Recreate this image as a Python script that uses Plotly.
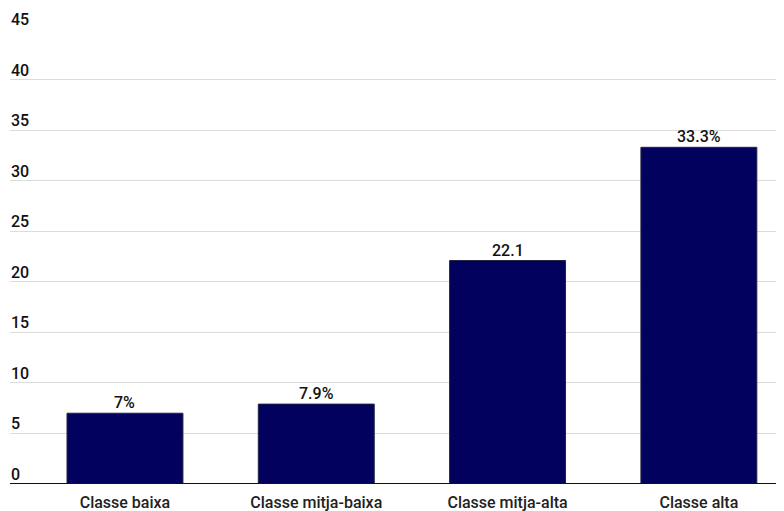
import plotly.graph_objects as go

categories = ["Classe baixa", "Classe mitja-baixa", "Classe mitja-alta", "Classe alta"]
values = [7, 7.9, 22.1, 33.3]
value_labels = ["7%", "7.9%", "22.1", "33.3%"]
y_ticks = [0, 5, 10, 15, 20, 25, 30, 35, 40, 45]

FONT = "Roboto"
fig = go.Figure()
fig.add_trace(go.Bar(
    x=list(range(len(categories))), y=values,
    marker=dict(color="#02025e", line=dict(color="#222244", width=1)),
    width=0.606,
))

annotations = []
for t in y_ticks:
    annotations.append(dict(x=0, xref="paper", y=t, yref="y", text=str(t),
                            showarrow=False, xanchor="left", yanchor="bottom",
                            yshift=-2, xshift=-1,
                            font=dict(family=FONT, size=16, color="#111", weight=500)))
for i, (v, lab) in enumerate(zip(values, value_labels)):
    annotations.append(dict(x=i, xref="x", y=v, yref="y", text=lab,
                            showarrow=False, xanchor="center", yanchor="bottom",
                            yshift=-1,
                            font=dict(family=FONT, size=16, color="#111", weight=500)))

fig.update_layout(
    width=776, height=503,
    margin=dict(l=2, r=0, t=21, b=27),
    paper_bgcolor="white", plot_bgcolor="white",
    showlegend=False,
    annotations=annotations,
    xaxis=dict(range=[-0.601, 3.445], tickmode="array",
               tickvals=list(range(len(categories))), ticktext=categories,
               showgrid=False, zeroline=False, showline=False, ticks="",
               ticklabelstandoff=7,
               tickfont=dict(family=FONT, size=16, color="#222", weight=500)),
    yaxis=dict(range=[0, 45], tickvals=y_ticks, showticklabels=False,
               showgrid=True, gridcolor="#dcdcdc", gridwidth=1,
               zeroline=False, showline=False),
    shapes=[dict(type="line", xref="paper", x0=0, x1=1, yref="y", y0=0, y1=0,
                 line=dict(color="#111", width=2), layer="above")],
)
fig.write_html("out.html")
